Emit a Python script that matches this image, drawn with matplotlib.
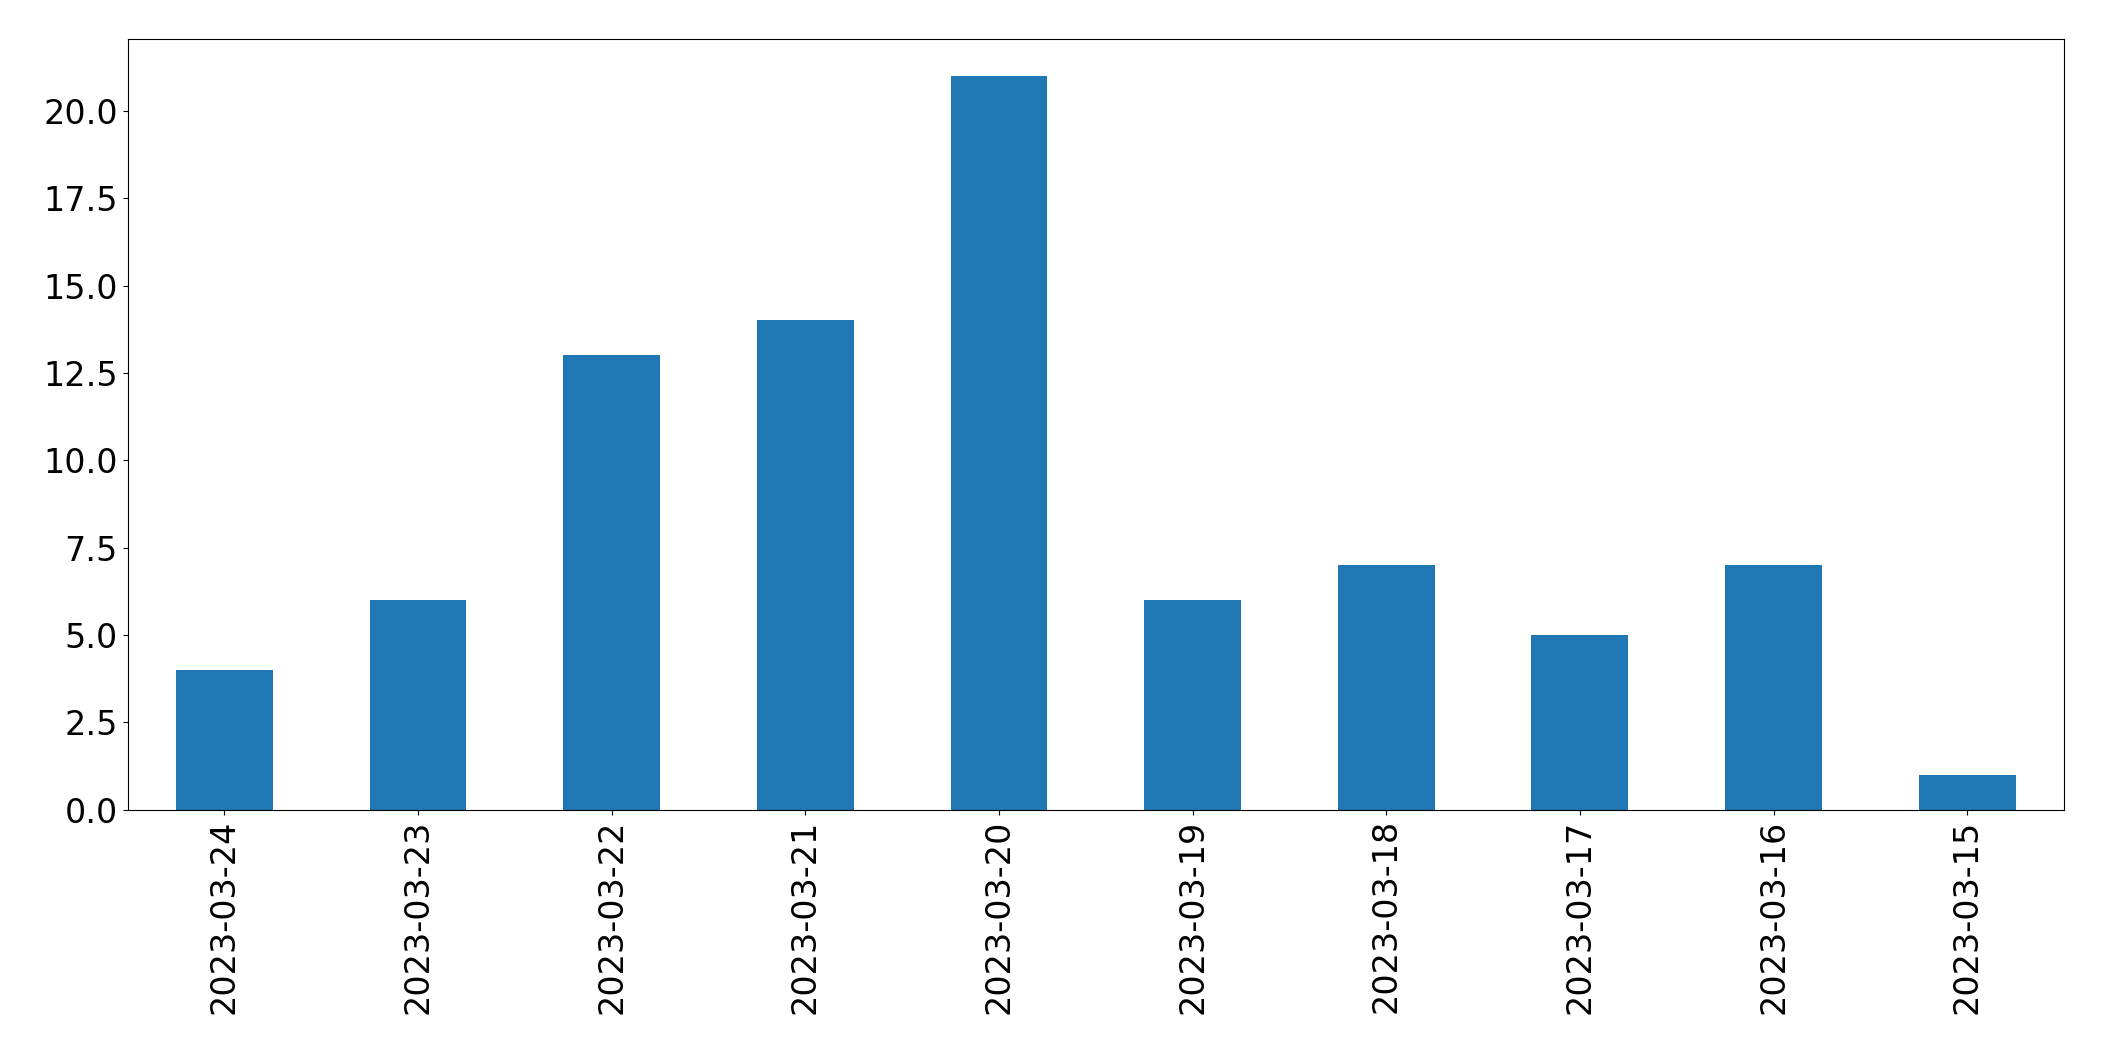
import matplotlib
matplotlib.use("Agg")
import matplotlib.pyplot as plt

dates = ["2023-03-24","2023-03-23","2023-03-22","2023-03-21","2023-03-20",
         "2023-03-19","2023-03-18","2023-03-17","2023-03-16","2023-03-15"]
counts = [4, 6, 13, 14, 21, 6, 7, 5, 7, 1]

fig = plt.figure(figsize=(21.04, 10.61), dpi=100)
ax = fig.add_axes([0.0606, 0.237, 0.9204, 0.726])
x = range(len(dates))
ax.bar(x, counts, width=0.5, color="#1f77b4")
ax.set_xticks(list(x))
ax.set_xticklabels(dates, rotation=90)
ax.set_xlim(-0.5, len(dates) - 0.5)
ax.set_ylim(0, 22.05)
ax.set_yticks([0, 2.5, 5, 7.5, 10, 12.5, 15, 17.5, 20])
ax.set_yticklabels([f"{v:.1f}" for v in [0, 2.5, 5, 7.5, 10, 12.5, 15, 17.5, 20]])
ax.tick_params(labelsize=24)
fig.savefig("out.png", dpi=100)
